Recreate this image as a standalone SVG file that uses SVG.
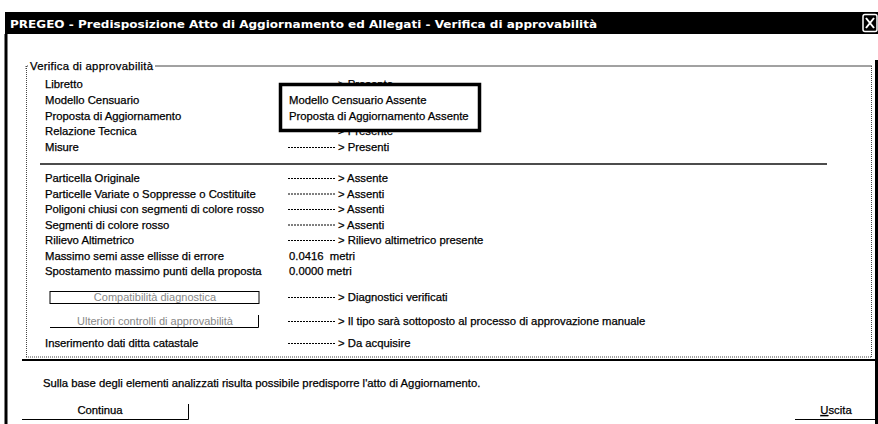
<svg xmlns="http://www.w3.org/2000/svg" width="878" height="424" viewBox="0 0 878 424">
<style>
.t{font-family:"Liberation Sans",Arial,sans-serif;font-size:11.3px;fill:#000;stroke:#000;stroke-width:0.25}
.g{font-family:"Liberation Sans",Arial,sans-serif;font-size:11px;fill:#888}
.dash{stroke:#000;stroke-width:1;stroke-dasharray:2 1}
.dot{stroke:#444;stroke-width:1;stroke-dasharray:1 1;fill:none}
</style>
<rect width="878" height="424" fill="#fff"/>
<g id="window">
<rect x="5" y="12" width="873" height="22" fill="#000"/>
<text x="10" y="28" font-family="DejaVu Sans,Verdana,sans-serif" font-weight="bold" font-size="11" fill="#fff" textLength="587" lengthAdjust="spacingAndGlyphs">PREGEO - Predisposizione Atto di Aggiornamento ed Allegati - Verifica di approvabilità</text>
<rect x="863" y="14.5" width="14" height="17" fill="none" stroke="#fff" stroke-width="1.5" rx="2"/>
<path d="M866 18 L874 28 M874 18 L866 28" stroke="#fff" stroke-width="2"/>
<line x1="6" y1="34" x2="6" y2="424" stroke="#000" stroke-width="3"/>
<line x1="876.5" y1="60" x2="876.5" y2="424" stroke="#000" stroke-width="3"/>
</g>
<g id="groupbox">
<line x1="155" y1="66" x2="872" y2="66" stroke="#444" stroke-width="1"/>
<path d="M26 69 V66 H28" class="dot"/>
<line x1="26.5" y1="66" x2="26.5" y2="357" class="dot"/>
<line x1="871.5" y1="66" x2="871.5" y2="357" class="dot"/>
<line x1="26" y1="357" x2="872" y2="357" class="dot"/>
<line x1="22" y1="360" x2="876" y2="360" stroke="#000" stroke-width="2"/>
<text class="t" x="30" y="70" textLength="123">Verifica di approvabilità</text>
<line x1="40" y1="164" x2="827" y2="164" stroke="#111" stroke-width="1.5"/>
</g>
<g id="labels">
<text class="t" x="45" y="88">Libretto</text>
<text class="t" x="45" y="104">Modello Censuario</text>
<text class="t" x="45" y="120">Proposta di Aggiornamento</text>
<text class="t" x="45" y="135">Relazione Tecnica</text>
<text class="t" x="45" y="151">Misure</text>
<text class="t" x="45" y="182">Particella Originale</text>
<text class="t" x="45" y="197.5">Particelle Variate o Soppresse o Costituite</text>
<text class="t" x="45" y="213">Poligoni chiusi con segmenti di colore rosso</text>
<text class="t" x="45" y="228.5">Segmenti di colore rosso</text>
<text class="t" x="45" y="244">Rilievo Altimetrico</text>
<text class="t" x="45" y="259.5">Massimo semi asse ellisse di errore</text>
<text class="t" x="45" y="275">Spostamento massimo punti della proposta</text>
<text class="t" x="45" y="347">Inserimento dati ditta catastale</text>
</g>
<g id="values">
<line class="dash" x1="288" y1="84.5" x2="336" y2="84.5"/>
<text class="t" x="338" y="88">&gt; Presente</text>
<line class="dash" x1="288" y1="131.5" x2="336" y2="131.5"/>
<text class="t" x="338" y="135">&gt; Presente</text>
<line class="dash" x1="288" y1="147.5" x2="336" y2="147.5"/>
<text class="t" x="338" y="151">&gt; Presenti</text>
<line class="dash" x1="288" y1="178.5" x2="336" y2="178.5"/>
<text class="t" x="338" y="182">&gt; Assente</text>
<line class="dash" x1="288" y1="194" x2="336" y2="194"/>
<text class="t" x="338" y="197.5">&gt; Assenti</text>
<line class="dash" x1="288" y1="209.5" x2="336" y2="209.5"/>
<text class="t" x="338" y="213">&gt; Assenti</text>
<line class="dash" x1="288" y1="225" x2="336" y2="225"/>
<text class="t" x="338" y="228.5">&gt; Assenti</text>
<line class="dash" x1="288" y1="240.5" x2="336" y2="240.5"/>
<text class="t" x="338" y="244">&gt; Rilievo altimetrico presente</text>
<text class="t" x="289" y="259.5" xml:space="preserve">0.0416  metri</text>
<text class="t" x="289" y="275">0.0000 metri</text>
<line class="dash" x1="288" y1="297.5" x2="336" y2="297.5"/>
<text class="t" x="338" y="301">&gt; Diagnostici verificati</text>
<line class="dash" x1="288" y1="321.5" x2="336" y2="321.5"/>
<text class="t" x="338" y="325">&gt; Il tipo sarà sottoposto al processo di approvazione manuale</text>
<line class="dash" x1="288" y1="343.5" x2="336" y2="343.5"/>
<text class="t" x="338" y="347">&gt; Da acquisire</text>
</g>
<g id="highlight">
<rect x="280.5" y="84.5" width="199" height="46" fill="#fff" stroke="#000" stroke-width="3.5"/>
<text class="t" x="289" y="104">Modello Censuario Assente</text>
<text class="t" x="289" y="120">Proposta di Aggiornamento Assente</text>
</g>
<g id="btn-compatibilita">
<rect x="50" y="291.5" width="209" height="12" fill="#fff" stroke="#000" stroke-width="1"/>
<text class="g" x="155" y="301" text-anchor="middle">Compatibilità diagnostica</text>
</g>
<g id="btn-ulteriori">
<path d="M50 327.5 H258.5 V315" fill="none" stroke="#000" stroke-width="1"/>
<text class="g" x="155" y="325" text-anchor="middle">Ulteriori controlli di approvabilità</text>
</g>
<g id="message">
<text class="t" x="43" y="387">Sulla base degli elementi analizzati risulta possibile predisporre l'atto di Aggiornamento.</text>
</g>
<g id="btn-continua">
<path d="M22 419.5 H188.5 V404" fill="none" stroke="#000" stroke-width="1"/>
<text class="t" x="100" y="414" text-anchor="middle">Continua</text>
</g>
<g id="btn-uscita">
<path d="M795 419.5 H876 V404" fill="none" stroke="#000" stroke-width="1"/>
<text class="t" x="836" y="414" text-anchor="middle"><tspan text-decoration="underline">U</tspan>scita</text>
</g>
</svg>
